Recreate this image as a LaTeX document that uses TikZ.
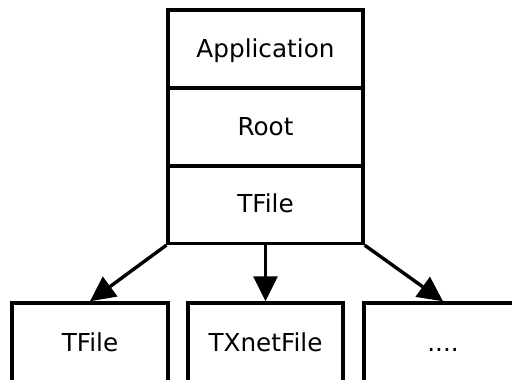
\documentclass[tikz,border=0pt]{standalone}
\usepackage{fontspec}
\setmainfont{DejaVu Sans}
\usetikzlibrary{arrows.meta}
\tikzset{
  box/.style={draw, line width=3.4pt, rectangle, inner sep=0pt,
    text height=20pt, text depth=4pt,
    font=\fontsize{24.7}{30}\selectfont},
  stackbox/.style={box, minimum width=195pt, minimum height=78pt},
  leafbox/.style={box, minimum width=156pt, minimum height=80pt},
  link/.style={line width=3.4pt, -{Triangle[length=25pt,width=24pt]}}
}
\begin{document}
\begin{tikzpicture}[x=1pt,y=-1pt]
  \path[use as bounding box, clip] (0,0) rectangle (512,380);
  % layered stack
  \node[stackbox] (app)  at (265.5,49)    {Application};
  \node[stackbox] (root) at (265.5,127)   {Root};
  \node[stackbox] (tf)   at (265.5,204.5) {TFile};
  % concrete file classes
  \node[leafbox] (leafa) at (90,343)    {TFile};
  \node[leafbox, minimum width=155pt] (leafb) at (265.5,343) {TXnetFile};
  \node[leafbox, minimum width=158pt] (leafc) at (443,343)   {....};
  % links
  \draw[link] (tf.south west) -- (leafa.north);
  \draw[link] (tf.south) -- (leafb.north);
  \draw[link] (tf.south east) -- (leafc.north);
\end{tikzpicture}
\end{document}
